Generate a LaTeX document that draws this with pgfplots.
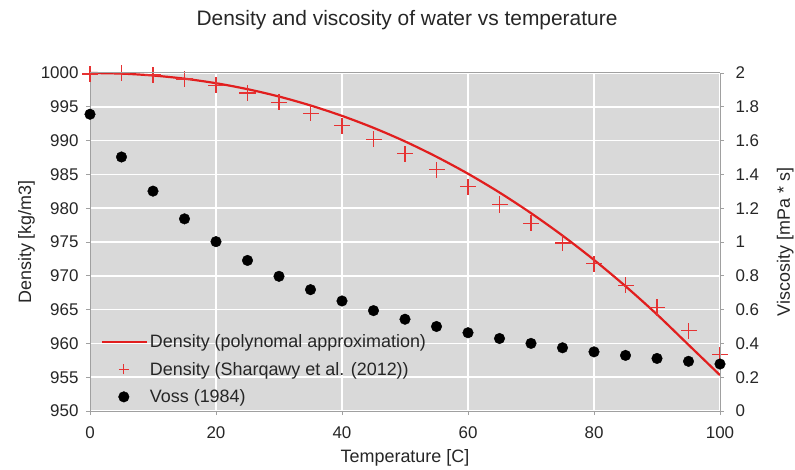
\documentclass[border=0pt]{standalone}
\usepackage{pgfplots}
\pgfplotsset{compat=1.18}
\usepackage{fontspec}
\setmainfont{Liberation Sans}
\definecolor{bgc}{RGB}{217,217,217}
\definecolor{axc}{RGB}{160,160,160}
\definecolor{lred}{RGB}{225,30,30}
\definecolor{pred}{RGB}{230,50,50}
\pgfplotsset{
  leglinestyle/.style={legend image code/.code={\draw[##1](0bp,0bp)--(45bp,0bp);}},
  legmarkstyle/.style={legend image code/.code={\draw[mark repeat=2,mark phase=2,##1] plot coordinates {(0bp,0bp)(22bp,0bp)(44bp,0bp)};}},
  legplusstyle/.style={legend image code/.code={\draw[pred, line width=1.1bp] (22bp,-5bp)--(22bp,5bp) (17bp,0bp)--(27bp,0bp);}},
}
\begin{document}
\begin{tikzpicture}
\pgfplotsset{
  every axis/.append style={
    width=630bp, height=338bp, scale only axis,
    xmin=0, xmax=100,
    axis line style={axc, line width=1pt},
    tick style={axc, line width=0.8pt},
    tick align=outside, major tick length=4bp,
    tick label style={font=\fontsize{17}{20}\selectfont, text=black!85},
    label style={font=\fontsize{18}{21}\selectfont, text=black!85},
    /pgf/number format/assume math mode=true,
    /pgf/number format/1000 sep={},
  }
}
\begin{axis}[
  axis background/.style={fill=bgc},
  ymin=950, ymax=1000,
  ytick={950,955,...,1000},
  xtick={0,20,...,100},
  grid=major, grid style={white, line width=1.5pt},
  axis y line*=left, axis x line*=bottom,
  xlabel={Temperature [C]},
  ylabel={Density [kg/m3]},
  yticklabel style={xshift=-4bp},
  xticklabel style={yshift=-8bp},
  xlabel style={yshift=-4bp},
  ylabel style={yshift=-1bp},
  clip=false,
  legend style={at={(0.012,0.008)}, anchor=south west, draw=none, fill=none,
    font=\fontsize{18}{21}\selectfont, text=black!85, row sep=9bp,
    /tikz/every even column/.append style={column sep=2bp}},
  legend cell align=left,
]
\addplot[color=lred, draw=lred, line width=2.2bp, no marks, smooth, leglinestyle]
  coordinates {
(0,1000.00)(5,999.91)(10,999.63)(15,999.16)(20,998.49)(25,997.61)(30,996.52)(35,995.20)
(40,993.66)(45,991.89)(50,989.88)(55,987.61)(60,985.10)(65,982.32)(70,979.27)(75,975.95)
(80,972.35)(85,968.46)(90,964.28)(95,959.79)(100,955.30)};
\addlegendentry{Density (polynomal approximation)}
\addplot[draw=none, no marks, legplusstyle,
  error bars/.cd, x dir=both, x fixed=1.27, y dir=both, y fixed=1.19,
  error mark=none, error bar style={draw=pred, line width=1.2bp}]
  coordinates {
(0,999.84)(5,999.97)(10,999.70)(15,999.10)(20,998.21)(25,997.05)(30,995.65)(35,994.03)
(40,992.22)(45,990.21)(50,988.04)(55,985.69)(60,983.20)(65,980.55)(70,977.76)(75,974.84)
(80,971.79)(85,968.61)(90,965.31)(95,961.89)(100,958.35)};
\addlegendentry{Density (Sharqawy et al. (2012))}
\addlegendimage{only marks, mark=*, black, mark size=5.3bp, legmarkstyle}
\addlegendentry{Voss (1984)}
\end{axis}
\begin{axis}[
  ymin=0, ymax=2,
  ytick={0,0.2,...,2.01},
  yticklabel style={/pgf/number format/fixed, xshift=8bp},
  axis y line*=right, axis x line=none,
  ylabel={Viscosity [mPa * s]},
  ylabel style={yshift=-11bp},
  clip=false,
]
\draw[axc, line width=1pt] (rel axis cs:0,1) -- (rel axis cs:1,1);
\addplot[only marks, mark=*, black, mark size=5.3bp] coordinates {
(0,1.756)(5,1.503)(10,1.301)(15,1.137)(20,1.002)(25,0.891)(30,0.797)(35,0.718)
(40,0.651)(45,0.594)(50,0.543)(55,0.500)(60,0.463)(65,0.429)(70,0.400)(75,0.374)
(80,0.350)(85,0.329)(90,0.311)(95,0.294)(100,0.278)};
\end{axis}
\node[font=\fontsize{21}{25}\selectfont, text=black!85] at (317bp,391bp) {Density and viscosity of water vs temperature};
\pgfresetboundingbox
\useasboundingbox (-90bp,-59bp) rectangle (705bp,411bp);
\end{tikzpicture}
\end{document}
